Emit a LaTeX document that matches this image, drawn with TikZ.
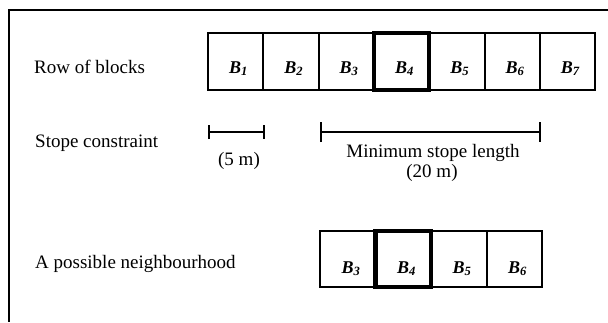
\documentclass[tikz,border=0pt]{standalone}
\usepackage{fontspec}
\setmainfont{Liberation Serif}
\usetikzlibrary{arrows.meta}
\tikzset{
  lbl/.style={anchor=base west, inner sep=0pt, font=\fontsize{19}{22}\selectfont},
  note/.style={anchor=base, inner sep=0pt, font=\fontsize{19}{22}\selectfont},
  blk/.style={draw, line width=2pt, minimum width=55.3pt, minimum height=57pt, inner sep=0pt},
  blk2/.style={draw, line width=2pt, minimum width=55.5pt, minimum height=56pt, inner sep=0pt},
  cur/.style={line width=4.5pt},
  bl/.style={anchor=base, inner sep=0pt, font=\fontsize{18}{20}\selectfont\bfseries\itshape},
  frame/.style={line width=2.2pt},
  bar/.style={line width=2pt, {Bar[width=14pt]}-{Bar[width=14pt]}},
  longbar/.style={line width=2pt, {Bar[width=20pt]}-{Bar[width=20pt]}},
}
\newcommand{\Bl}[1]{B\textsubscript{#1}}
\begin{document}
\begin{tikzpicture}[x=1pt,y=-1pt]
\useasboundingbox (0,0) rectangle (608,322);
% frame
\coordinate (ftr) at (608,10);
\coordinate (ftl) at (9,10);
\coordinate (fbl) at (9,322);
\draw[frame] (ftr) -- (ftl) -- (fbl);

% row of blocks
\node[lbl] (rowlbl) at (34,73) {Row of blocks};
\foreach \i in {1,2,3,5,6,7}{
  \node[blk] (r\i) at ({208+27.65+55.3*(\i-1)},61.5) {};
  \node[bl] (rl\i) at ({208+30.5+55.3*(\i-1)},73) {\Bl{\i}};
}
\node[blk, cur] (r4) at ({208+27.65+55.3*3},61.5) {};
\node[bl] (rl4) at ({208+30.5+55.3*3},73) {\Bl{4}};

% stope constraint
\node[lbl] (stlbl) at (35,147) {Stope constraint};
\coordinate (sa) at (208,132);
\coordinate (sb) at (265,132);
\draw[bar] (sa) -- (sb);
\node[note] (five) at (239,165) {(5 m)};
\coordinate (la) at (320,132);
\coordinate (lb) at (541,132);
\draw[longbar] (la) -- (lb);
\node[note] (minl) at (433,157) {Minimum stope length};
\node[note] (twenty) at (432,177) {(20 m)};

% neighbourhood
\node[lbl] (nlbl) at (35,268) {A possible neighbourhood};
\foreach \j/\k in {0/3,2/5,3/6}{
  \node[blk2] (n\k) at ({320+27.75+55.5*\j},259) {};
  \node[bl] (nl\k) at ({320+31+55.5*\j},273) {\Bl{\k}};
}
\node[blk2, cur] (n4) at ({320+27.75+55.5},259) {};
\node[bl] (nl4) at ({320+31+55.5},273) {\Bl{4}};
\end{tikzpicture}
\end{document}
